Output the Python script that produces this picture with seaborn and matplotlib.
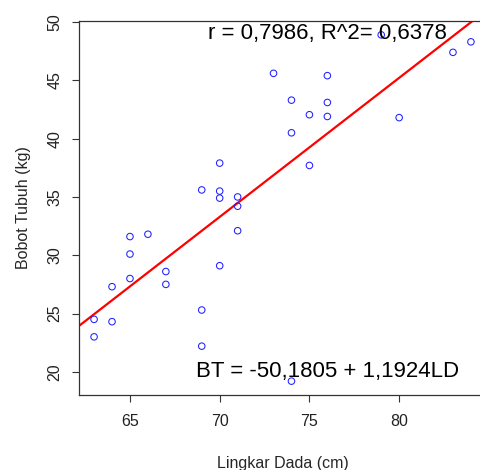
import numpy as np
import pandas as pd
import seaborn as sns
import matplotlib
matplotlib.use("Agg")
import matplotlib.pyplot as plt

# lingkar dada (cm) vs bobot tubuh (kg)
ld = [63, 63, 64, 64, 65, 65, 65, 66, 67, 67, 69, 69, 69, 70, 70, 70, 70,
      71, 71, 71, 73, 74, 74, 74, 75, 75, 76, 76, 76, 79, 80, 83, 84]
bt = [24.5, 23.0, 27.3, 24.3, 31.6, 30.1, 28.0, 31.8, 28.6, 27.5, 35.6, 25.3,
      22.2, 37.9, 35.5, 34.9, 29.1, 35.0, 34.2, 32.1, 45.6, 43.3, 40.5, 19.2,
      42.05, 37.7, 45.4, 43.1, 41.9, 48.9, 41.8, 47.4, 48.3]

intercept = -50.1805
slope = 1.1924
label_r = "r = 0,7986, R^2= 0,6378"
label_eq = "BT = -50,1805 + 1,1924LD"

x_ticks = [65, 70, 75, 80]
y_ticks = [20, 25, 30, 35, 40, 45, 50]

df = pd.DataFrame({"LD": ld, "BT": bt})

sns.set_theme(style="ticks")
plt.rcParams["font.family"] = ["Liberation Sans", "DejaVu Sans"]

fig = plt.figure(figsize=(4.8, 4.7), dpi=100)
ax = fig.add_axes([79 / 480, 75 / 470, 407 / 480, 374 / 470])

sns.scatterplot(data=df, x="LD", y="BT", ax=ax, marker="o", s=22,
                facecolors="none", edgecolor="#2020ff", linewidth=0.75, zorder=3)
ax.axline((0, intercept), slope=slope, color="#ff0000", lw=1.6, zorder=2)

# R-style 4% padding
xr = max(ld) - min(ld)
yr = max(bt) - min(bt)
ax.set_xlim(min(ld) - 0.04 * xr, max(ld) + 0.04 * xr)
ax.set_ylim(min(bt) - 0.04 * yr, max(bt) + 0.04 * yr)

ax.set_xticks(x_ticks)
ax.set_yticks(y_ticks)
ax.tick_params(axis="both", direction="out", length=5, width=0.8,
               color="#333333", labelsize=11.5, labelcolor="#222222")
ax.tick_params(axis="x", pad=9)
ax.tick_params(axis="y", pad=7)
for lab in ax.get_yticklabels():
    lab.set_rotation(90)
    lab.set_va("center")

for sp in ax.spines.values():
    sp.set_visible(True)
    sp.set_color("#333333")
    sp.set_linewidth(0.9)

ax.set_xlabel("Lingkar Dada (cm)", fontsize=11.5, labelpad=19)
ax.set_ylabel("Bobot Tubuh (kg)", fontsize=11.5, labelpad=12)

ax.text(76, 49.05, label_r, ha="center", va="center", fontsize=16, color="black")
ax.text(76, 20.0, label_eq, ha="center", va="center", fontsize=16, color="black")

fig.savefig("out.png", dpi=100)
